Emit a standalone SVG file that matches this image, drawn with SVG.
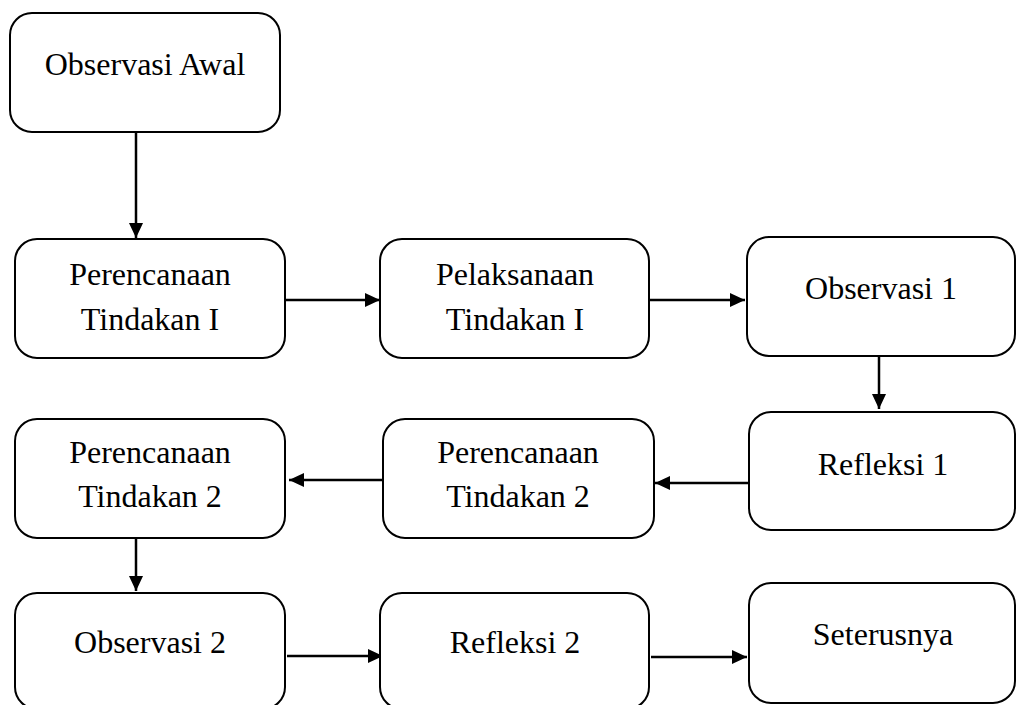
<svg xmlns="http://www.w3.org/2000/svg" width="1016" height="705" viewBox="0 0 1016 705">
<defs>
<style>
.box{fill:#fff;stroke:#000;stroke-width:2}
.t{font-family:"Liberation Serif","Times New Roman",serif;font-size:32px;fill:#000;text-anchor:middle}
.c{stroke:#000;stroke-width:2.5;fill:none}
</style>
<marker id="ah" markerWidth="16" markerHeight="16" refX="15" refY="7" orient="auto" markerUnits="userSpaceOnUse" viewBox="0 0 16 14">
<path d="M0,0 L15,7 L0,14 Z" fill="#000"/>
</marker>
</defs>
<rect width="1016" height="705" fill="#fff"/>
<g id="connectors">
<line class="c" x1="136" y1="132" x2="136" y2="238" marker-end="url(#ah)"/>
<line class="c" x1="286" y1="300" x2="380" y2="300" marker-end="url(#ah)"/>
<line class="c" x1="650" y1="300" x2="745" y2="300" marker-end="url(#ah)"/>
<line class="c" x1="879" y1="356" x2="879" y2="409" marker-end="url(#ah)"/>
<line class="c" x1="749" y1="483" x2="655" y2="483" marker-end="url(#ah)"/>
<line class="c" x1="383" y1="480" x2="289" y2="480" marker-end="url(#ah)"/>
<line class="c" x1="136" y1="538" x2="136" y2="591" marker-end="url(#ah)"/>
<line class="c" x1="287" y1="656" x2="383" y2="656" marker-end="url(#ah)"/>
<line class="c" x1="651" y1="657" x2="747" y2="657" marker-end="url(#ah)"/>
</g>
<g id="n1"><rect class="box" x="10" y="13" width="270" height="119" rx="22"/><text class="t" x="145" y="75">Observasi Awal</text></g>
<g id="n2"><rect class="box" x="15" y="239" width="270" height="119" rx="22"/><text class="t" x="150" y="285">Perencanaan</text><text class="t" x="150" y="330">Tindakan I</text></g>
<g id="n3"><rect class="box" x="380" y="239" width="269" height="119" rx="22"/><text class="t" x="515" y="285">Pelaksanaan</text><text class="t" x="515" y="330">Tindakan I</text></g>
<g id="n4"><rect class="box" x="747" y="237" width="268" height="119" rx="22"/><text class="t" x="881" y="299">Observasi 1</text></g>
<g id="n5"><rect class="box" x="749" y="412" width="266" height="118" rx="22"/><text class="t" x="883" y="475">Refleksi 1</text></g>
<g id="n6"><rect class="box" x="383" y="419" width="271" height="119" rx="22"/><text class="t" x="518" y="463">Perencanaan</text><text class="t" x="518" y="507">Tindakan 2</text></g>
<g id="n7"><rect class="box" x="15" y="419" width="270" height="119" rx="22"/><text class="t" x="150" y="463">Perencanaan</text><text class="t" x="150" y="507">Tindakan 2</text></g>
<g id="n8"><rect class="box" x="15" y="593" width="270" height="116" rx="22"/><text class="t" x="150" y="653">Observasi 2</text></g>
<g id="n9"><rect class="box" x="380" y="593" width="269" height="116" rx="22"/><text class="t" x="515" y="653">Refleksi 2</text></g>
<g id="n10"><rect class="box" x="749" y="583" width="266" height="120" rx="22"/><text class="t" x="883" y="645">Seterusnya</text></g>
</svg>
